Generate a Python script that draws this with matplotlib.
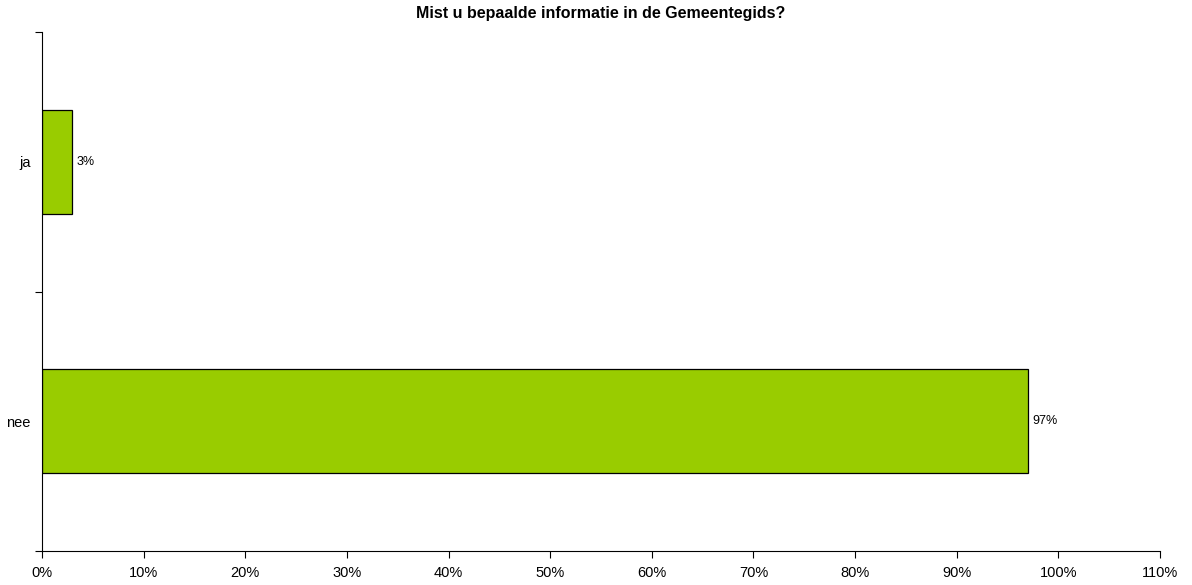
import matplotlib
matplotlib.use('Agg')
import matplotlib.pyplot as plt
from matplotlib.ticker import FixedLocator, NullFormatter

categories = ['nee', 'ja']
waarden = [97, 3]
x_ticks = [0, 10, 20, 30, 40, 50, 60, 70, 80, 90, 100, 110]

plt.rcParams['font.family'] = ['Liberation Sans', 'DejaVu Sans']

fig = plt.figure(figsize=(11.92, 5.85), dpi=100)
ax = fig.add_axes([42 / 1192, 1 - 551 / 585, (1160 - 42) / 1192, (551 - 32) / 585])

posities = [i + 0.5 for i in range(len(categories))]
ax.barh(posities, waarden, height=0.4, color='#99CC00', edgecolor='black', linewidth=0.9)

for p, v in zip(posities, waarden):
    ax.text(v + 0.4, p, f'{v}%', va='center', ha='left', fontsize=9)

ax.set_xlim(0, 110)
ax.set_ylim(0, len(categories))
ax.set_xticks(x_ticks)
ax.set_xticklabels([f'{t}%' for t in x_ticks], fontsize=10.5)
ax.yaxis.set_major_locator(FixedLocator([0, 1, 2]))
ax.yaxis.set_major_formatter(NullFormatter())
ax.yaxis.set_minor_locator(FixedLocator(posities))
ax.set_yticklabels(categories, minor=True, fontsize=10.5)
ax.tick_params(axis='y', which='minor', length=0, pad=8)
ax.tick_params(axis='y', which='major', length=5, direction='out')
ax.tick_params(axis='x', length=5, direction='out', pad=6)

ax.spines['top'].set_visible(False)
ax.spines['right'].set_visible(False)

fig.suptitle('Mist u bepaalde informatie in de Gemeentegids?', fontsize=11.5,
             fontweight='bold', y=0.99, va='top', x=(42 + 1160) / 2 / 1192)

fig.savefig('out.png', dpi=100)
